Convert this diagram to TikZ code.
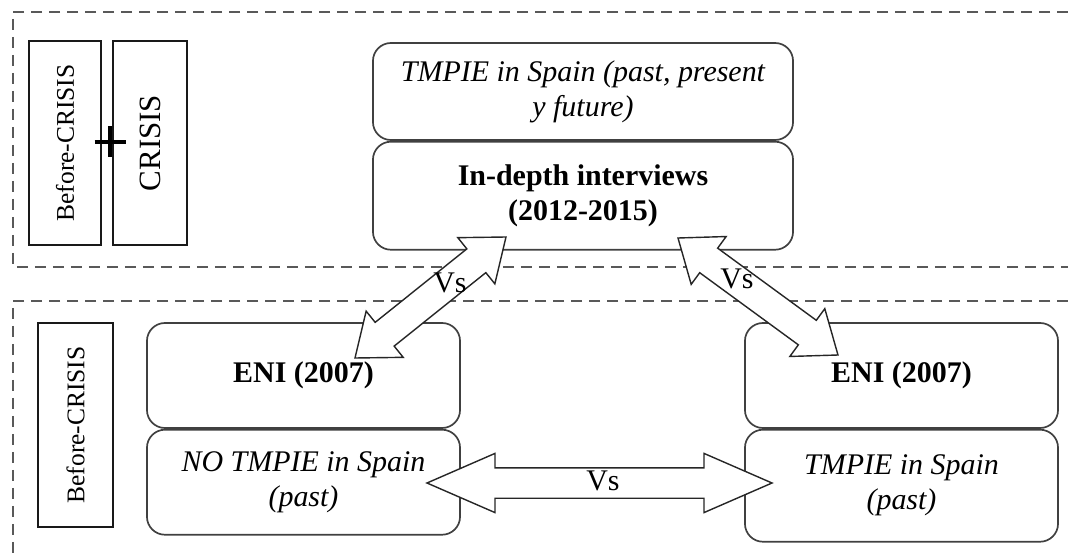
\documentclass[tikz,border=0pt]{standalone}
\usepackage{fontspec}
\setmainfont{Liberation Serif}
\usepackage{tikz}
\usetikzlibrary{calc,positioning}
\newcommand\vsarrow[3][0.95cm]{
\draw[vsshape] (#2)
 -- ($(#2)!#1!(#3)!0.74cm!90:(#3)$) -- ($(#2)!#1!(#3)!0.38cm!90:(#3)$)
 -- ($(#3)!#1!(#2)!0.38cm!-90:(#2)$) -- ($(#3)!#1!(#2)!0.74cm!-90:(#2)$)
 -- (#3)
 -- ($(#3)!#1!(#2)!0.74cm!90:(#2)$) -- ($(#3)!#1!(#2)!0.38cm!90:(#2)$)
 -- ($(#2)!#1!(#3)!0.38cm!-90:(#3)$) -- ($(#2)!#1!(#3)!0.74cm!-90:(#3)$)
 -- cycle;}
\tikzset{
 dashbox/.style={draw=black!65, line width=1.4pt, dash pattern=on 7.8pt off 5pt},
 phase/.style={draw=black!90, line width=1.2pt, rotate=90, minimum width=5.1cm, inner sep=0pt},
 roundbox/.style={draw=black!75, line width=1.2pt, rounded corners=0.45cm, fill=white, align=center,
   inner sep=0pt, font=\fontsize{21.3pt}{24.9pt}\selectfont},
 vsshape/.style={draw=black!85, fill=white, line width=1pt, line join=miter},
 vslabel/.style={inner sep=0pt, font=\fontsize{21.3pt}{25pt}\selectfont},
 plusbar/.style={line width=2.8pt, black}
}

\begin{document}
\begin{tikzpicture}[x=0.025cm, y=-0.025cm]
\useasboundingbox (0,0) rectangle (1068,558);
\draw[dashbox] (1068,12) -| (13,267) -- (1068,267);
\draw[dashbox] (1068,301) -| (13,560);

\node[phase, minimum height=1.8cm, font=\fontsize{18.1pt}{21pt}\selectfont] (topbefore) at (65,143) {Before-CRISIS};
\node[phase, minimum height=1.85cm, font=\fontsize{22pt}{25pt}\selectfont] (topcrisis) at (150,143) {CRISIS};
\coordinate (plus) at (110,142);
\draw[plusbar] (plus) ++(-15.5,0) -- ++(31,0);
\draw[plusbar] (plus) ++(0,-15.5) -- ++(0,31);
\node[phase, minimum height=1.875cm, font=\fontsize{18.1pt}{21pt}\selectfont] (botbefore) at (75.5,425) {Before-CRISIS};

\node[roundbox, minimum width=10.5cm, minimum height=2.425cm] (hist) at (583,91.5)
 {\itshape TMPIE in Spain (past, present\\\itshape y future)};
\node[roundbox, minimum width=10.5cm, minimum height=2.7cm, below=0pt of hist] (interviews)
 {\bfseries In-depth interviews\\\bfseries (2012-2015)};

\node[roundbox, minimum width=7.825cm, minimum height=2.625cm] (eniL) at (303.5,375.5) {\bfseries ENI (2007)};
\node[roundbox, minimum width=7.825cm, minimum height=2.625cm, below=0pt of eniL] (notmpie)
 {\itshape NO TMPIE in Spain\\\itshape (past)};
\node[roundbox, minimum width=7.825cm, minimum height=2.625cm] (eniR) at (901.5,375.5) {\bfseries ENI (2007)};
\node[roundbox, minimum width=7.825cm, minimum height=2.8cm, below=0pt of eniR] (tmpieR)
 {\itshape TMPIE in Spain\\\itshape (past)};

\coordinate (dlA) at (355,358);
\coordinate (dlB) at (506,237);
\coordinate (drA) at (678,238);
\coordinate (drB) at (838,355);
\coordinate (hA) at (427,483);
\coordinate (hB) at (772,483);
\vsarrow{dlA}{dlB}
\vsarrow{drA}{drB}
\vsarrow[1.7cm]{hA}{hB}

\node[vslabel] (vsL) at (450,283) {Vs};
\node[vslabel] (vsR) at (737,279) {Vs};
\node[vslabel] (vsH) at (603,481) {Vs};
\end{tikzpicture}
\end{document}
